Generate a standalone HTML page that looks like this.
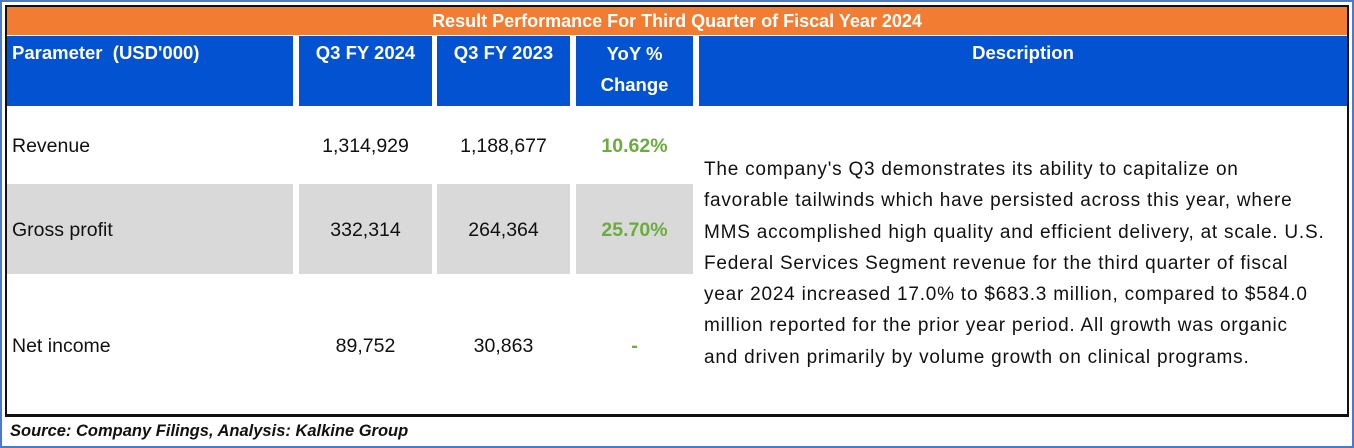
<!DOCTYPE html>
<html><head><meta charset="utf-8"><style>
body{margin:0;width:1354px;height:448px;background:#fff;position:relative;overflow:hidden;font-family:"Liberation Sans",sans-serif}
div{position:absolute;box-sizing:border-box}
.h{background:#0352d2;color:#fff;font-weight:bold;font-size:18.5px;text-align:center;padding-top:3px;line-height:28px}
.c{font-size:19.5px;color:#111;text-align:center}
.g{background:#d9d9d9}
.p{color:#6aad3c;font-weight:bold}
</style></head><body>
<div style="left:0;top:0;width:1354px;height:448px;border:2px solid #4a7ac9"></div>
<div style="left:5px;top:5px;width:1344px;height:412px;border:2px solid #111;border-bottom:3px solid #111"></div>
<div style="left:7px;top:7px;width:1340px;height:28px;background:#f27d32;color:#fff;font-weight:bold;font-size:18px;text-align:center;line-height:28px">Result Performance For Third Quarter of Fiscal Year 2024</div>
<div class="h" style="left:7px;top:36px;width:286px;height:70px;text-align:left;padding-left:5px">Parameter&nbsp; (USD'000)</div>
<div class="h" style="left:299px;top:36px;width:133px;height:70px">Q3 FY 2024</div>
<div class="h" style="left:437px;top:36px;width:133px;height:70px">Q3 FY 2023</div>
<div class="h" style="left:576px;top:36px;width:117px;height:70px;line-height:31px;padding-top:2px">YoY %<br>Change</div>
<div class="h" style="left:699px;top:36px;width:648px;height:70px">Description</div>

<div class="c" style="left:12px;top:135px">Revenue</div>
<div class="c" style="left:299px;top:135px;width:133px">1,314,929</div>
<div class="c" style="left:437px;top:135px;width:133px">1,188,677</div>
<div class="c p" style="left:576px;top:135px;width:117px">10.62%</div>

<div class="g" style="left:7px;top:184px;width:286px;height:90px"></div>
<div class="g" style="left:299px;top:184px;width:133px;height:90px"></div>
<div class="g" style="left:437px;top:184px;width:133px;height:90px"></div>
<div class="g" style="left:576px;top:184px;width:117px;height:90px"></div>
<div class="c" style="left:12px;top:219px">Gross profit</div>
<div class="c" style="left:299px;top:219px;width:133px">332,314</div>
<div class="c" style="left:437px;top:219px;width:133px">264,364</div>
<div class="c p" style="left:576px;top:219px;width:117px">25.70%</div>

<div class="c" style="left:12px;top:335px">Net income</div>
<div class="c" style="left:299px;top:335px;width:133px">89,752</div>
<div class="c" style="left:437px;top:335px;width:133px">30,863</div>
<div class="c p" style="left:576px;top:335px;width:117px">-</div>

<div style="left:704px;top:154px;font-size:19px;letter-spacing:0.78px;line-height:31.3px;color:#111;white-space:nowrap">The company's Q3 demonstrates its ability to capitalize on<br>favorable tailwinds which have persisted across this year, where<br>MMS accomplished high quality and efficient delivery, at scale. U.S.<br>Federal Services Segment revenue for the third quarter of fiscal<br>year 2024 increased 17.0% to $683.3 million, compared to $584.0<br>million reported for the prior year period. All growth was organic<br>and driven primarily by volume growth on clinical programs.</div>

<div style="left:10px;top:422px;font-size:16.5px;font-weight:bold;font-style:italic;color:#111">Source: Company Filings, Analysis: Kalkine Group</div>
</body></html>
